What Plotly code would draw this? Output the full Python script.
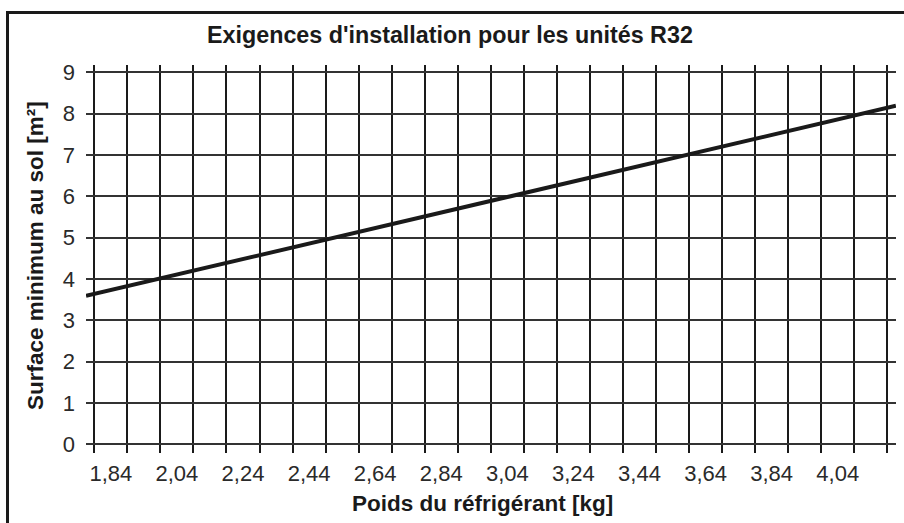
import plotly.graph_objects as go

# ---- data ----
weight_kg = [1.765, 4.216]          # refrigerant weight (kg), line ends
min_area_m2 = [3.59, 8.19]          # minimum floor area (m²)
x_tick_vals = [1.84, 2.04, 2.24, 2.44, 2.64, 2.84, 3.04, 3.24, 3.44, 3.64, 3.84, 4.04]
x_tick_text = ["1,84", "2,04", "2,24", "2,44", "2,64", "2,84", "3,04", "3,24", "3,44", "3,64", "3,84", "4,04"]
y_tick_vals = [0, 1, 2, 3, 4, 5, 6, 7, 8, 9]

title_text = "Exigences d'installation pour les unités R32"
x_title = "Poids du réfrigérant [kg]"
y_title = "Surface minimum au sol [m²]"

FONT = "Liberation Sans, Arial, Helvetica, sans-serif"
W, H = 904, 523
ML, MR, MT, MB = 86, 8, 65, 70
PW, PH = W - ML - MR, H - MT - MB

def px_x(px):
    return (px - ML) / PW

def px_y(py):
    return (H - MB - py) / PH

fig = go.Figure()
fig.add_trace(go.Scatter(
    x=weight_kg, y=min_area_m2, mode="lines",
    line=dict(color="#1a1a1a", width=4),
    hoverinfo="skip", showlegend=False,
))

fig.update_layout(
    width=W, height=H,
    margin=dict(l=ML, r=MR, t=MT, b=MB),
    paper_bgcolor="white", plot_bgcolor="white",
    font=dict(family=FONT, color="#1a1a1a"),
    showlegend=False,
)

fig.update_xaxes(
    range=[1.7649, 4.2163],
    tickmode="array", tickvals=x_tick_vals, ticktext=x_tick_text,
    ticks="", showgrid=False, zeroline=False, showline=False,
    tickfont=dict(size=22, color="#2a2a2a", family=FONT),
    ticklabelstandoff=5,
    minor=dict(tick0=1.79, dtick=0.1, showgrid=True, gridcolor="#1a1a1a",
               gridwidth=1.6, ticks=""),
)
fig.update_yaxes(
    range=[-0.2105, 9.177],
    tickmode="array", tickvals=y_tick_vals,
    ticks="", showgrid=True, gridcolor="#333333", gridwidth=1.5,
    zeroline=False, showline=False,
    tickfont=dict(size=22, color="#2a2a2a", family=FONT),
    ticklabelstandoff=10,
)

# frame
fig.add_shape(type="rect", xref="paper", yref="paper",
              x0=px_x(7.5), x1=px_x(915), y0=px_y(540), y1=px_y(12.5),
              line=dict(color="#1a1a1a", width=3), fillcolor="rgba(0,0,0,0)",
              layer="below")

# titles
fig.add_annotation(text="<b>" + title_text + "</b>", xref="paper", yref="paper",
                   x=px_x(450), y=px_y(34.5), xanchor="center", yanchor="middle",
                   showarrow=False, font=dict(size=23.3, color="#1a1a1a", family=FONT))
fig.add_annotation(text="<b>" + x_title + "</b>", xref="paper", yref="paper",
                   x=px_x(482.5), y=px_y(503), xanchor="center", yanchor="middle",
                   showarrow=False, font=dict(size=22.5, color="#1a1a1a", family=FONT))
fig.add_annotation(text="<b>" + y_title + "</b>", xref="paper", yref="paper",
                   x=px_x(35), y=px_y(256), xanchor="center", yanchor="middle",
                   textangle=-90,
                   showarrow=False, font=dict(size=22.5, color="#1a1a1a", family=FONT))

fig.write_html("out.html", config={"displayModeBar": False},
               post_script="document.body.style.margin='0';")
